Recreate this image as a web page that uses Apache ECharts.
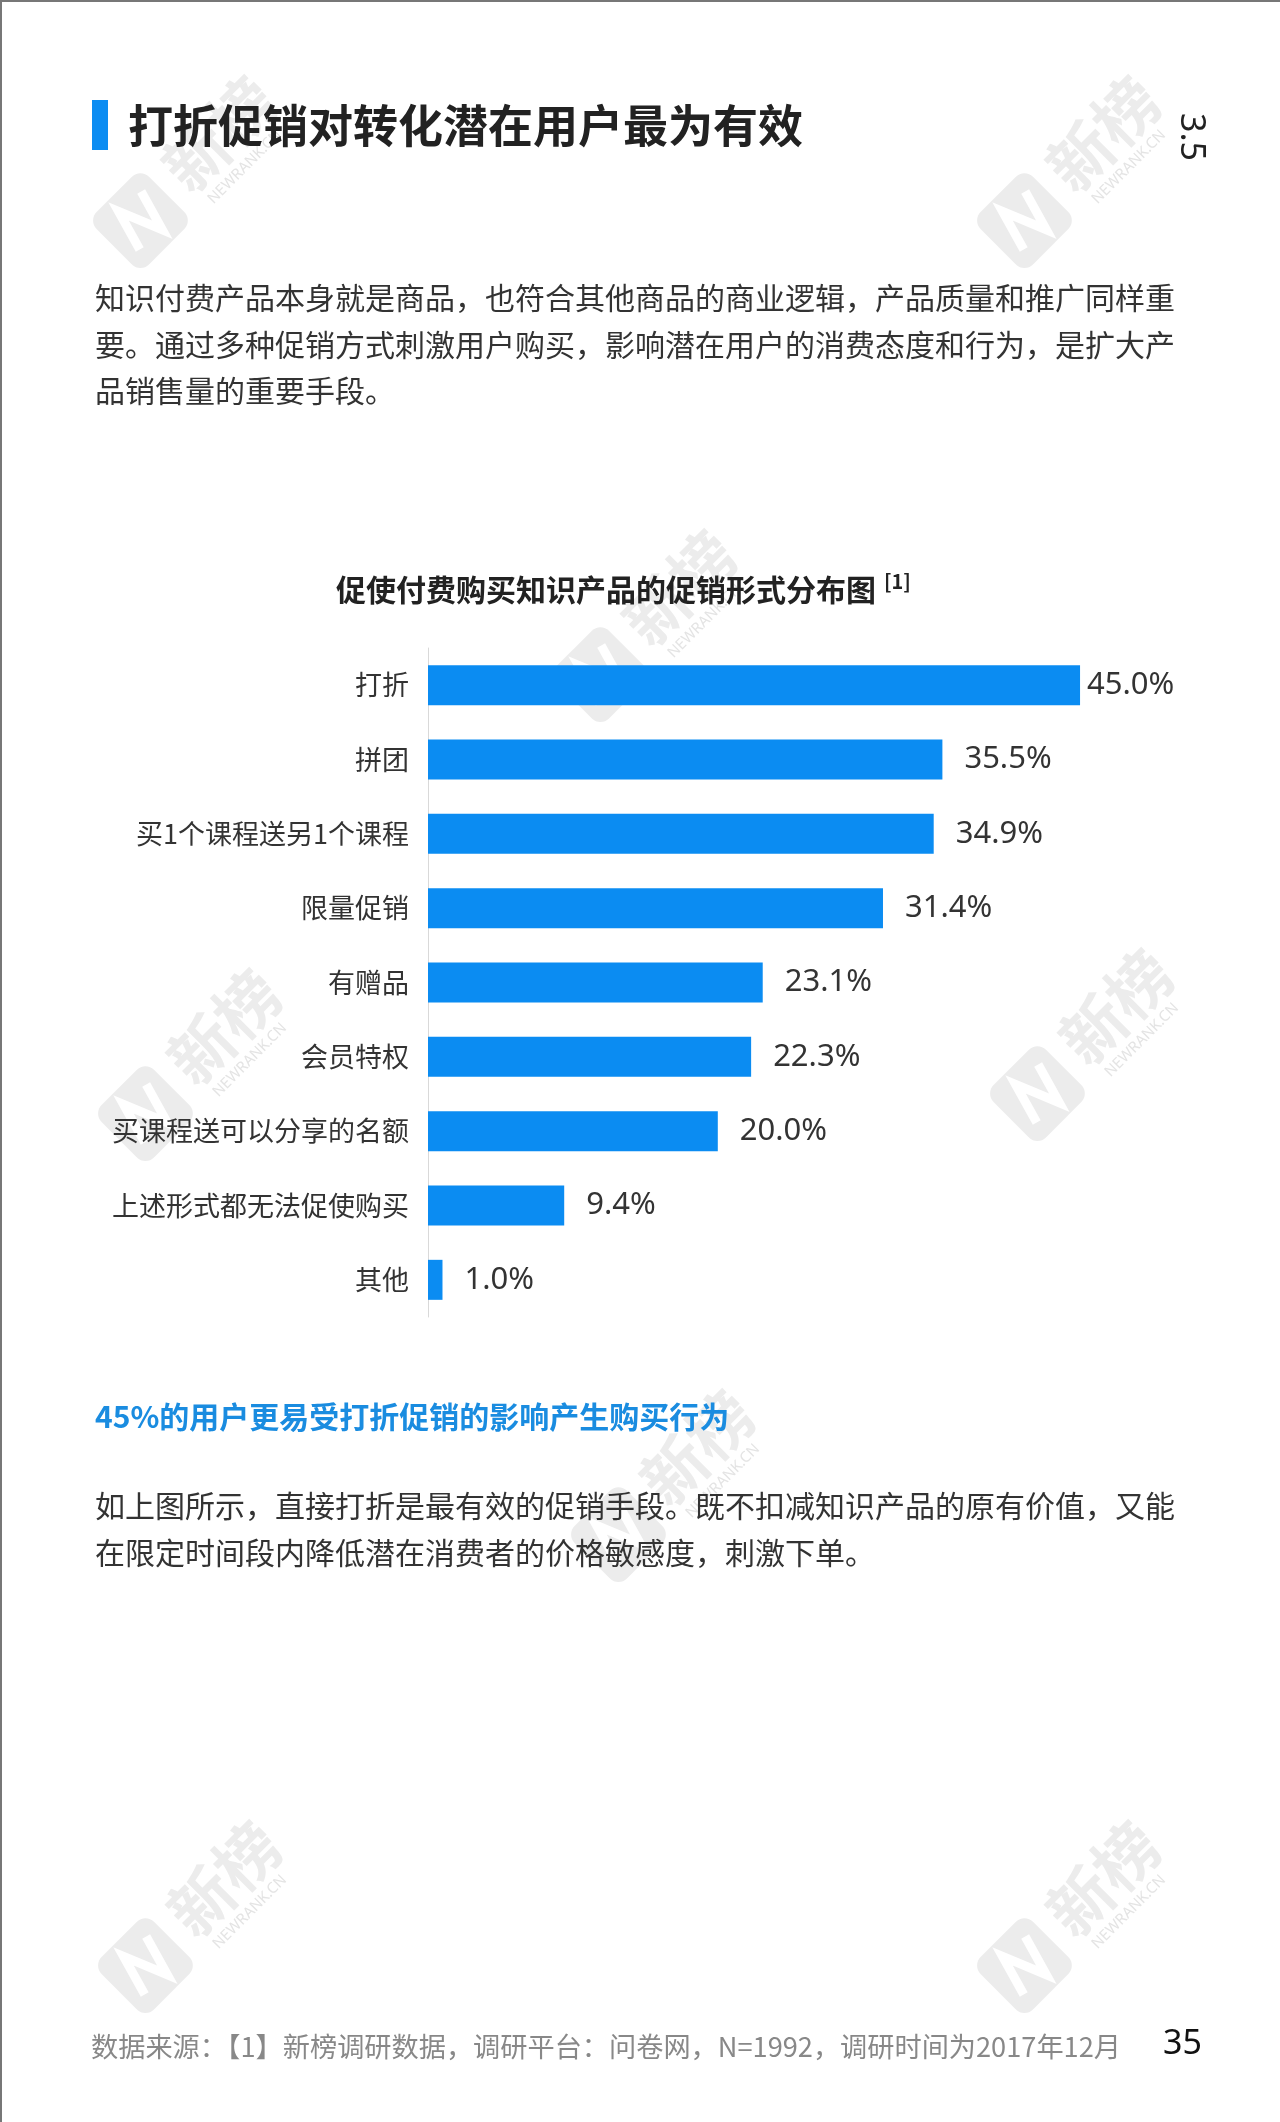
<!DOCTYPE html>
<html>
<head>
<meta charset="utf-8">
<title>促使付费购买知识产品的促销形式分布图</title>
<script src="https://cdn.jsdelivr.net/npm/echarts@6/dist/echarts.min.js"></script>
<style>
  html, body { margin: 0; padding: 0; background: #fff; }
  #main { width: 1280px; height: 2122px; }
</style>
</head>
<body>
<div id="main"></div>
<script>
// 数据
var categories = ['打折', '拼团', '买1个课程送另1个课程', '限量促销', '有赠品', '会员特权', '买课程送可以分享的名额', '上述形式都无法促使购买', '其他']
var values = [45.0, 35.5, 34.9, 31.4, 23.1, 22.3, 20.0, 9.4, 1.0]

var pageTitle = '打折促销对转化潜在用户最为有效'
var chartTitle = '促使付费购买知识产品的促销形式分布图'
var introLines = [
  '知识付费产品本身就是商品，也符合其他商品的商业逻辑，产品质量和推广同样重',
  '要。通过多种促销方式刺激用户购买，影响潜在用户的消费态度和行为，是扩大产',
  '品销售量的重要手段。'
]
var highlight = '45%的用户更易受打折促销的影响产生购买行为'
var noteLines = [
  '如上图所示，直接打折是最有效的促销手段。既不扣减知识产品的原有价值，又能',
  '在限定时间段内降低潜在消费者的价格敏感度，刺激下单。'
]
var source = '数据来源：【1】新榜调研数据，调研平台：问卷网，N=1992，调研时间为2017年12月'

var BLUE = '#0b8cf2'
var CJK = '"Noto Sans CJK SC", "Noto Sans", sans-serif'
var NUM = '"Noto Sans", sans-serif'

function txt(x, y, text, size, color, weight, extra) {
  var s = {
    text: text, fontSize: size, fontFamily: CJK, fontWeight: weight || 'normal', fill: color,
    textAlign: 'left', align: 'left', textVerticalAlign: 'middle', verticalAlign: 'middle'
  }
  for (var k in extra) s[k] = extra[k]
  return { type: 'text', x: x, y: y, z: 10, style: s }
}

// 新榜水印
function watermark(cx, cy) {
  return {
    type: 'group', x: cx, y: cy, rotation: Math.PI / 4, z: 0, silent: true,
    children: [
      { type: 'rect', shape: { x: -100, y: -37, width: 74, height: 74, r: 12 }, style: { fill: '#ececec' } },
      { type: 'polyline', shape: { points: [[-84, 20], [-72, -22], [-54, 22], [-42, -20]] }, style: { stroke: '#fff', lineWidth: 9, fill: null } },
      { type: 'text', x: -10, y: -6, style: { text: '新榜', fontSize: 64, fontWeight: 'bold', fontFamily: CJK, fill: '#ececec', verticalAlign: 'middle', textVerticalAlign: 'middle' } },
      { type: 'text', x: 0, y: 36, style: { text: 'NEWRANK.CN', fontSize: 15, fontFamily: 'Noto Sans', fill: '#e4e4e4', verticalAlign: 'middle', textVerticalAlign: 'middle' } }
    ]
  }
}

var graphics = [
  // 页面边框
  { type: 'line', shape: { x1: 0, y1: 1, x2: 1280, y2: 1 }, style: { stroke: '#777', lineWidth: 2 } },
  { type: 'line', shape: { x1: 1, y1: 0, x2: 1, y2: 2122 }, style: { stroke: '#777', lineWidth: 2 } },
  watermark(185, 176), watermark(1069, 176), watermark(645, 630),
  watermark(190, 1069), watermark(1082, 1049), watermark(663, 1490),
  watermark(190, 1921), watermark(1069, 1921),
  { type: 'rect', shape: { x: 92, y: 100, width: 16, height: 50 }, style: { fill: BLUE } },
  txt(128, 126, pageTitle, 45, '#222', 'bold'),
  txt(1191, 137, '3.5', 34, '#222', 'normal', { fontFamily: 'Noto Sans', textAlign: 'center', align: 'center' })
]
graphics[graphics.length - 1].rotation = -Math.PI / 2

introLines.forEach(function(l, i) { graphics.push(txt(95, 298 + i * 46.5, l, 30, '#333')) })
graphics.push(txt(336, 590, chartTitle, 30, '#222', 'bold'))
graphics.push(txt(884, 581, '[1]', 20, '#222', 'bold'))
graphics.push(txt(95, 1417, highlight, 30, '#1a8ce0', 'bold'))
noteLines.forEach(function(l, i) { graphics.push(txt(95, 1506 + i * 46.5, l, 30, '#333')) })
graphics.push(txt(91, 2047, source, 27.2, '#888'))
graphics.push(txt(1163, 2044, '35', 34, '#111', 'normal', { fontFamily: 'Noto Sans' }))

// 第一根柱子离标签更近
var barData = values.map(function(v, i) {
  return i === 0 ? { value: v, label: { distance: 7 } } : v
})

var chart = echarts.init(document.getElementById('main'), null, { renderer: 'canvas' })
chart.setOption({
  backgroundColor: '#fff',
  animation: false,
  grid: { left: 428, top: 648, width: 724.5, height: 669 },
  xAxis: { type: 'value', min: 0, max: 50, show: false },
  yAxis: {
    type: 'category',
    inverse: true,
    data: categories,
    axisLine: { show: true, lineStyle: { color: '#d9d9d9', width: 1 } },
    axisTick: { show: false },
    axisLabel: { margin: 19, fontSize: 27, color: '#333', fontFamily: CJK }
  },
  series: [{
    type: 'bar',
    data: barData,
    barWidth: 40,
    z: 5,
    itemStyle: { color: BLUE },
    label: {
      show: true,
      position: 'right',
      distance: 22,
      fontSize: 31,
      fontFamily: NUM,
      color: '#333',
      formatter: function(p) { return p.value.toFixed(1) + '%' }
    }
  }],
  graphic: graphics
})
</script>
</body>
</html>
